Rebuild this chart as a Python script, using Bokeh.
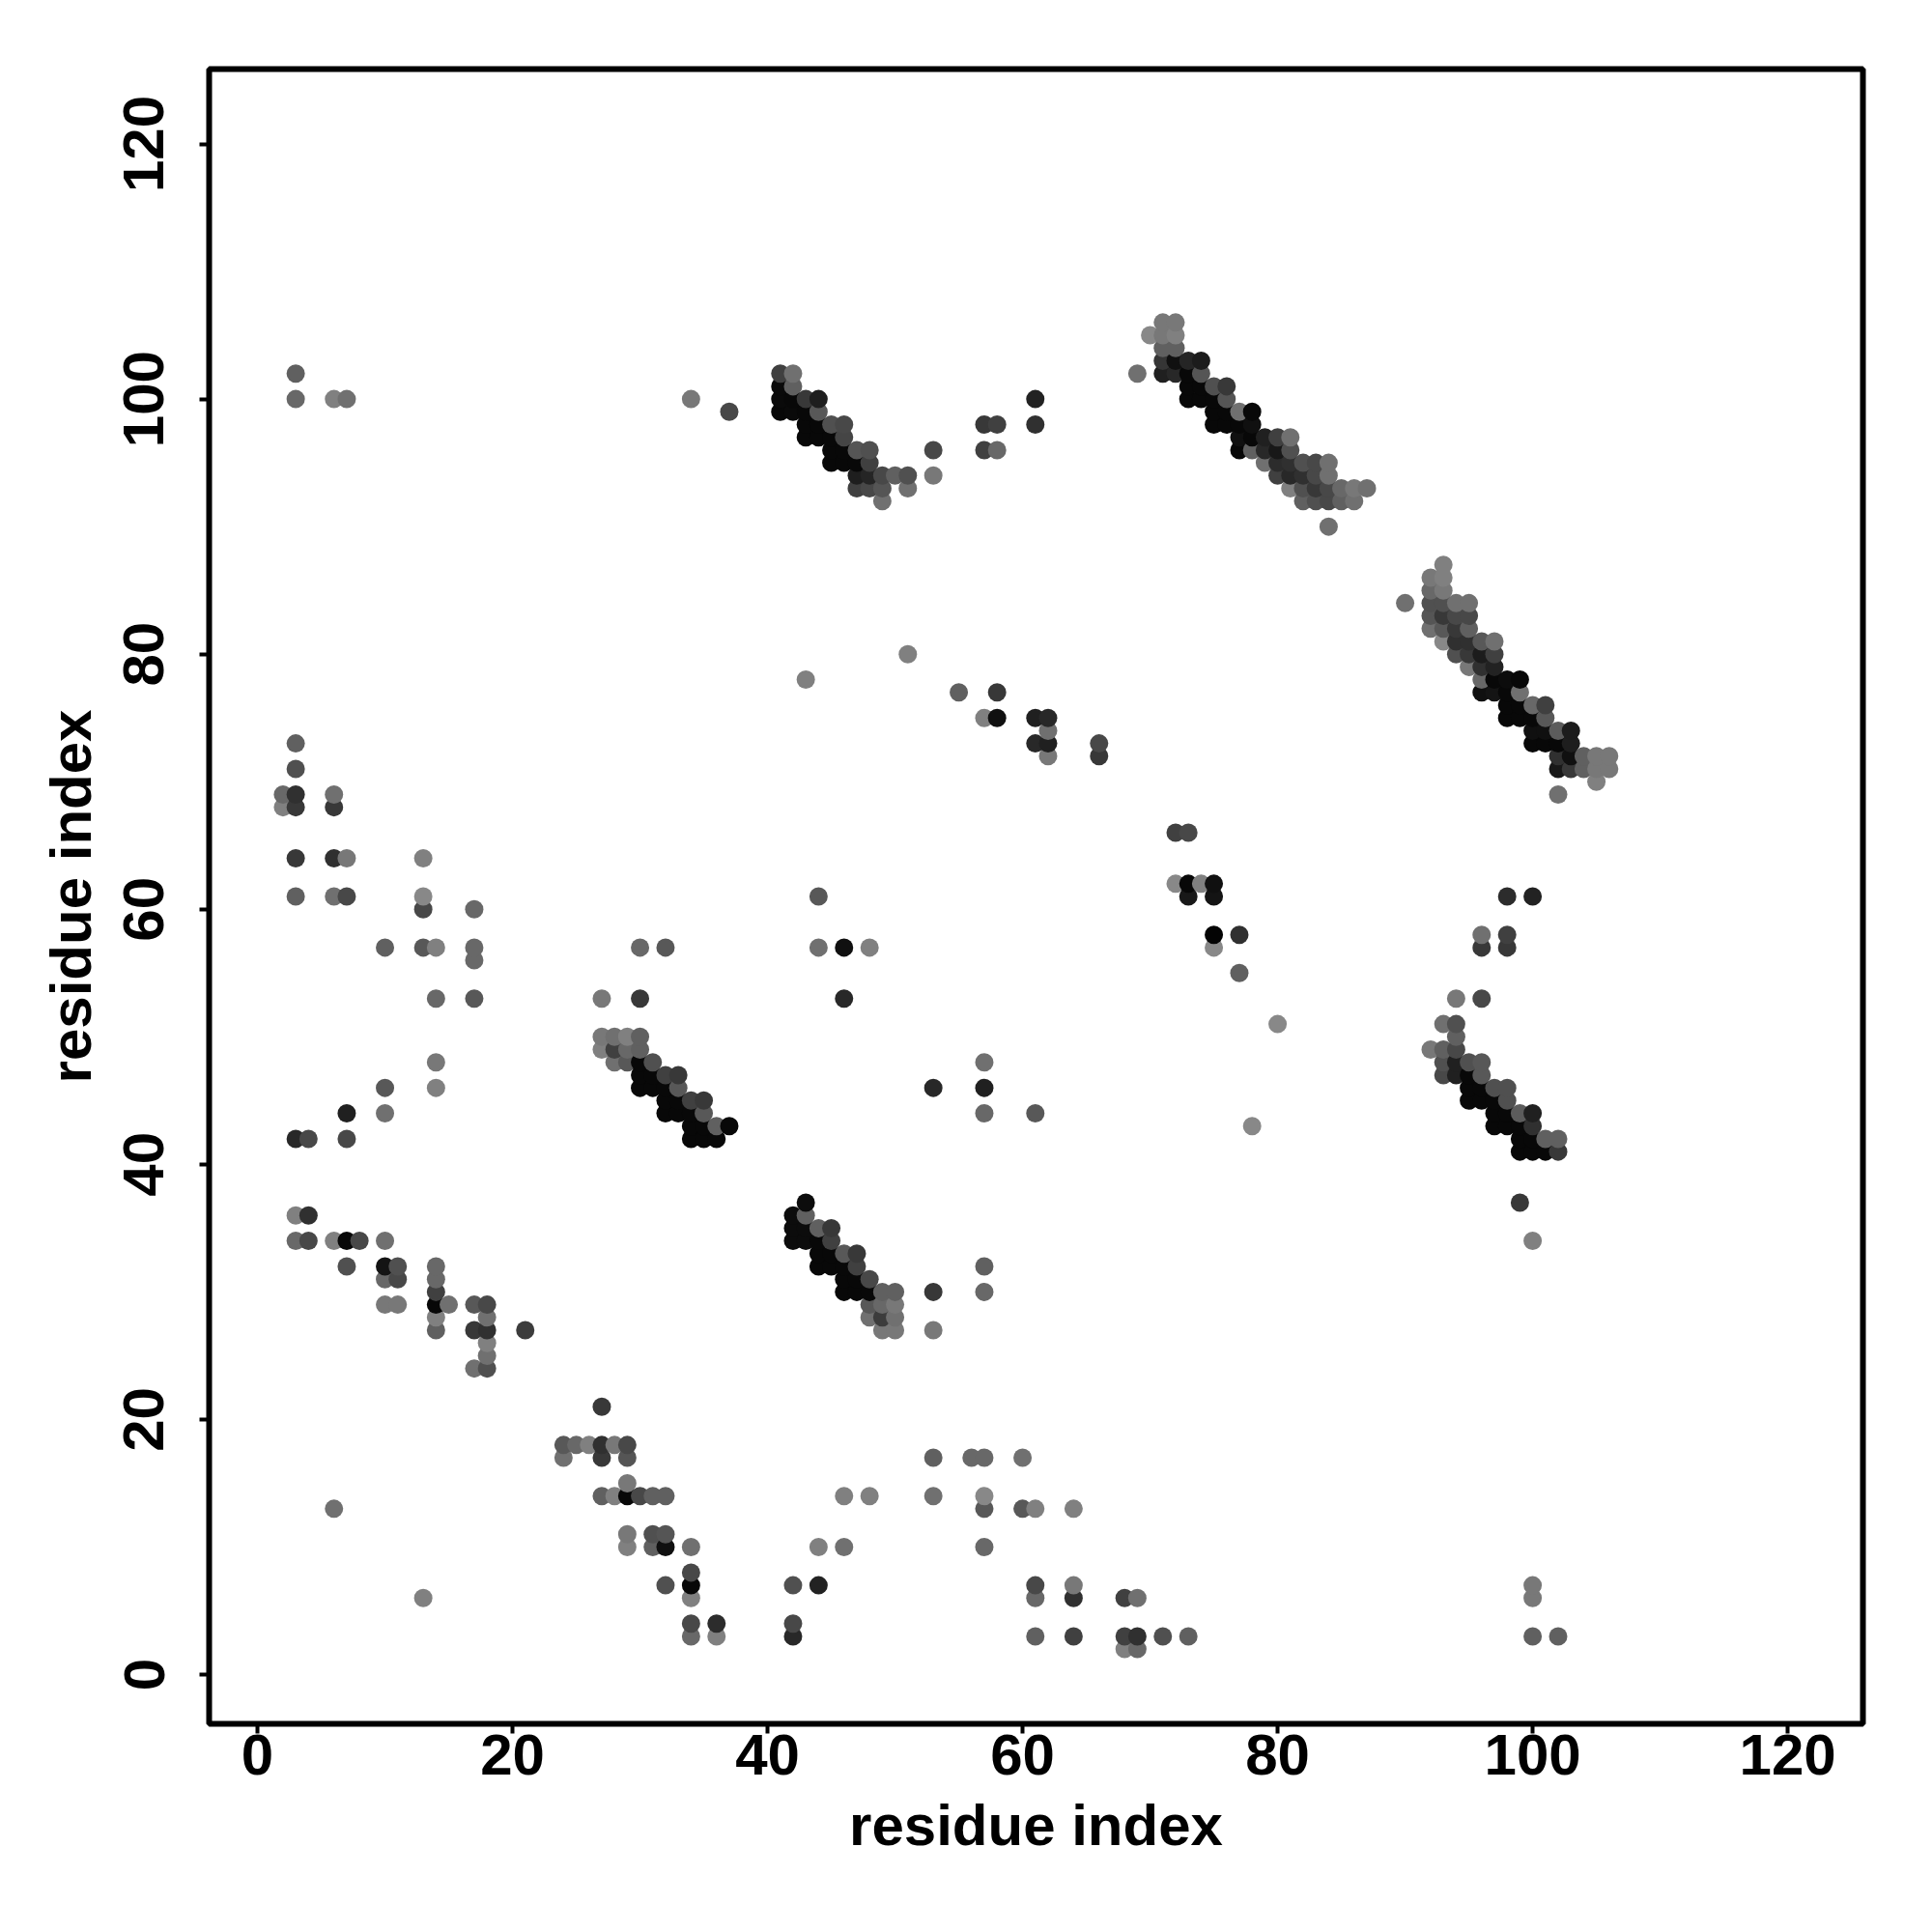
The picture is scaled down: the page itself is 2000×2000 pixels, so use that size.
from bokeh.plotting import figure
from bokeh.models import Range1d, FixedTicker, ColumnDataSource
from bokeh.embed import file_html
from bokeh.resources import INLINE

tick_values = [0, 20, 40, 60, 80, 100, 120]
x_label = "residue index"
y_label = "residue index"

# one entry per residue column; y positions and grey level of each contact
column_x = [2, 3, 4, 6, 7, 8, 10, 11, 13, 14, 15, 17, 18, 21, 24, 25, 26, 27, 28, 29, 30, 31, 32, 33, 34, 35, 36, 37,
            41, 42, 43, 44, 45, 46, 47, 48, 49, 50, 51, 53, 55, 56, 57, 58, 60, 61, 62, 64, 66, 68, 69, 70, 71, 72,
            73, 74, 75, 76, 77, 78, 79, 80, 81, 82, 83, 84, 85, 86, 87, 90, 92, 93, 94, 95, 96, 97, 98, 99, 100, 101,
            102, 103, 104, 105, 106]
column_y = [
    [69, 68],
    [102, 100, 73, 71, 69, 68, 64, 61, 42, 36, 34],
    [42, 36, 34],
    [100, 69, 68, 64, 61, 34, 13],
    [100, 64, 61, 44, 42, 34, 32],
    [34],
    [57, 46, 44, 34, 32, 31, 29],
    [32, 31, 29],
    [64, 61, 60, 57, 6],
    [57, 53, 48, 46, 32, 31, 30, 29, 28, 27],
    [29],
    [60, 57, 56, 53, 29, 27, 24],
    [29, 28, 27, 26, 25, 24],
    [27],
    [18, 17],
    [18],
    [18],
    [53, 50, 49, 21, 18, 17, 14],
    [50, 49, 48, 18, 14],
    [50, 49, 48, 18, 17, 15, 14, 11, 10],
    [57, 53, 50, 49, 48, 47, 46, 14],
    [48, 47, 46, 14, 11, 10],
    [57, 47, 46, 45, 44, 14, 11, 10, 7],
    [47, 46, 45, 44],
    [100, 45, 44, 43, 42, 10, 8, 7, 6, 4, 3],
    [45, 44, 43, 42],
    [43, 42, 4, 3],
    [99, 43],
    [102, 101, 100, 99],
    [102, 101, 100, 99, 36, 35, 34, 7, 4, 3],
    [100, 99, 98, 97, 78, 37, 36, 35, 34],
    [100, 99, 98, 97, 61, 57, 35, 34, 33, 32, 10, 7],
    [98, 97, 96, 95, 35, 34, 33, 32],
    [98, 97, 96, 95, 57, 53, 33, 32, 31, 30, 14, 10],
    [96, 95, 94, 93, 33, 32, 31, 30],
    [96, 95, 94, 93, 57, 31, 30, 29, 28, 14],
    [94, 93, 92, 30, 29, 28, 27],
    [94, 30, 29, 28, 27],
    [94, 93, 80],
    [96, 94, 46, 30, 27, 17, 14],
    [77],
    [17],
    [98, 96, 75, 48, 46, 44, 32, 30, 17, 14, 13, 10],
    [98, 96, 77, 75],
    [17, 13],
    [100, 98, 75, 73, 44, 13, 7, 6, 3],
    [75, 74, 73, 72],
    [13, 7, 6, 3],
    [73, 72],
    [6, 3, 2],
    [102, 6, 3, 2],
    [105],
    [106, 105, 104, 103, 102, 3],
    [106, 105, 104, 103, 102, 66, 62],
    [103, 102, 101, 100, 66, 62, 61, 3],
    [103, 102, 101, 100, 62],
    [101, 100, 99, 98, 62, 61, 58, 57],
    [101, 100, 99, 98],
    [99, 98, 97, 96, 58, 55],
    [99, 98, 97, 96, 43],
    [97, 96, 95],
    [97, 96, 95, 94, 51],
    [97, 96, 95, 94, 93],
    [95, 94, 93, 92],
    [95, 94, 93, 92],
    [95, 94, 93, 92, 90],
    [93, 92],
    [93, 92],
    [93],
    [84],
    [86, 85, 84, 83, 82, 49],
    [87, 86, 85, 84, 83, 82, 81, 51, 49, 48, 47],
    [84, 83, 82, 81, 80, 53, 51, 50, 49, 48, 47],
    [84, 83, 82, 81, 80, 79, 48, 47, 46, 45],
    [81, 80, 79, 78, 77, 58, 57, 53, 48, 47, 46, 45],
    [81, 80, 79, 78, 77, 46, 45, 44, 43],
    [78, 77, 76, 75, 61, 58, 57, 46, 45, 44, 43],
    [78, 77, 76, 75, 44, 43, 42, 41, 37],
    [76, 75, 74, 73, 61, 44, 43, 42, 41, 34, 7, 6, 3],
    [76, 75, 74, 73, 42, 41],
    [74, 73, 72, 71, 69, 42, 41, 3],
    [74, 73, 72, 71],
    [72, 71],
    [72, 71, 70],
    [72, 71],
]
column_grey = [
    [0x68, 0x80],
    [0x60, 0x68, 0x60, 0x50, 0x30, 0x38, 0x38, 0x60, 0x28, 0x80, 0x68],
    [0x48, 0x30, 0x48],
    [0x80, 0x70, 0x38, 0x30, 0x70, 0x80, 0x70],
    [0x70, 0x78, 0x48, 0x20, 0x48, 0x08, 0x50],
    [0x48],
    [0x60, 0x58, 0x70, 0x70, 0x14, 0x68, 0x78],
    [0x50, 0x48, 0x78],
    [0x80, 0x88, 0x48, 0x58, 0x80],
    [0x80, 0x68, 0x78, 0x80, 0x68, 0x68, 0x40, 0x08, 0x80, 0x60],
    [0x70],
    [0x68, 0x68, 0x68, 0x58, 0x58, 0x38, 0x70],
    [0x48, 0x70, 0x30, 0x80, 0x70, 0x50],
    [0x3c],
    [0x58, 0x70],
    [0x68],
    [0x80],
    [0x78, 0x78, 0x80, 0x38, 0x30, 0x38, 0x60],
    [0x70, 0x40, 0x70, 0x78, 0x80],
    [0x80, 0x68, 0x58, 0x48, 0x55, 0x78, 0x08, 0x78, 0x80],
    [0x68, 0x38, 0x60, 0x60, 0x08, 0x08, 0x08, 0x48],
    [0x50, 0x08, 0x08, 0x60, 0x50, 0x60],
    [0x58, 0x40, 0x08, 0x08, 0x08, 0x60, 0x55, 0x10, 0x50],
    [0x38, 0x58, 0x08, 0x08],
    [0x78, 0x40, 0x08, 0x08, 0x08, 0x70, 0x48, 0x08, 0x80, 0x48, 0x68],
    [0x38, 0x58, 0x08, 0x08],
    [0x60, 0x08, 0x2c, 0x80],
    [0x48, 0x08],
    [0x40, 0x0a, 0x0a, 0x08],
    [0x70, 0x60, 0x08, 0x0a, 0x0c, 0x0c, 0x0c, 0x50, 0x48, 0x28],
    [0x38, 0x08, 0x08, 0x08, 0x80, 0x0c, 0x60, 0x0c, 0x0c],
    [0x1e, 0x58, 0x08, 0x08, 0x58, 0x70, 0x60, 0x08, 0x08, 0x08, 0x80, 0x22],
    [0x50, 0x08, 0x08, 0x08, 0x38, 0x40, 0x08, 0x08],
    [0x48, 0x45, 0x08, 0x08, 0x10, 0x28, 0x58, 0x08, 0x08, 0x08, 0x80, 0x70],
    [0x55, 0x08, 0x1e, 0x40, 0x38, 0x40, 0x08, 0x08],
    [0x50, 0x40, 0x25, 0x48, 0x80, 0x48, 0x08, 0x58, 0x70, 0x80],
    [0x48, 0x55, 0x70, 0x60, 0x68, 0x3c, 0x78],
    [0x60, 0x60, 0x78, 0x70, 0x78],
    [0x50, 0x70, 0x80],
    [0x48, 0x78, 0x28, 0x38, 0x78, 0x60, 0x70],
    [0x60],
    [0x68],
    [0x38, 0x40, 0x80, 0x70, 0x20, 0x68, 0x60, 0x68, 0x68, 0x88, 0x58, 0x68],
    [0x40, 0x68, 0x38, 0x10],
    [0x70, 0x58],
    [0x22, 0x30, 0x20, 0x28, 0x58, 0x80, 0x48, 0x68, 0x60],
    [0x28, 0x70, 0x20, 0x78],
    [0x80, 0x78, 0x30, 0x40],
    [0x48, 0x38],
    [0x40, 0x40, 0x80],
    [0x70, 0x70, 0x30, 0x68],
    [0x88],
    [0x78, 0x78, 0x60, 0x35, 0x20, 0x50],
    [0x78, 0x80, 0x60, 0x10, 0x28, 0x40, 0x88],
    [0x25, 0x08, 0x08, 0x08, 0x48, 0x08, 0x18, 0x60],
    [0x1c, 0x55, 0x08, 0x08, 0x80],
    [0x50, 0x08, 0x08, 0x08, 0x10, 0x14, 0x04, 0x88],
    [0x38, 0x55, 0x08, 0x08],
    [0x70, 0x08, 0x10, 0x08, 0x30, 0x60],
    [0x08, 0x10, 0x08, 0x60, 0x88],
    [0x20, 0x28, 0x70],
    [0x40, 0x18, 0x2c, 0x40, 0x88],
    [0x70, 0x50, 0x30, 0x28, 0x80],
    [0x50, 0x30, 0x50, 0x60],
    [0x48, 0x48, 0x38, 0x50],
    [0x70, 0x70, 0x48, 0x48, 0x70],
    [0x68, 0x60],
    [0x78, 0x70],
    [0x70],
    [0x70],
    [0x78, 0x68, 0x50, 0x55, 0x70, 0x78],
    [0x80, 0x80, 0x78, 0x50, 0x38, 0x58, 0x88, 0x70, 0x60, 0x50, 0x48],
    [0x70, 0x48, 0x38, 0x30, 0x50, 0x78, 0x50, 0x60, 0x48, 0x20, 0x20],
    [0x70, 0x48, 0x60, 0x30, 0x38, 0x78, 0x50, 0x08, 0x08, 0x08],
    [0x58, 0x1c, 0x30, 0x68, 0x10, 0x70, 0x38, 0x48, 0x58, 0x58, 0x08, 0x08],
    [0x70, 0x40, 0x22, 0x08, 0x14, 0x50, 0x08, 0x08, 0x08],
    [0x0c, 0x08, 0x08, 0x08, 0x2c, 0x40, 0x38, 0x50, 0x50, 0x08, 0x08],
    [0x08, 0x70, 0x08, 0x08, 0x5c, 0x08, 0x08, 0x08, 0x38],
    [0x68, 0x08, 0x10, 0x08, 0x22, 0x20, 0x30, 0x08, 0x08, 0x80, 0x78, 0x78, 0x60],
    [0x40, 0x58, 0x10, 0x08, 0x60, 0x08],
    [0x5c, 0x08, 0x30, 0x18, 0x70, 0x60, 0x38, 0x60],
    [0x1c, 0x1e, 0x10, 0x38],
    [0x60, 0x60],
    [0x78, 0x78, 0x80],
    [0x78, 0x78],
]

points = []
for cx, ys, gs in zip(column_x, column_y, column_grey):
    assert len(ys) == len(gs), cx
    for y, g in zip(ys, gs):
        points.append((cx, y, g))
points.sort(key=lambda t: (t[0], t[1]))

source = ColumnDataSource(dict(
    x=[t[0] for t in points],
    y=[t[1] for t in points],
    color=["#%02x%02x%02x" % (t[2], t[2], t[2]) for t in points],
))

FONT = "Liberation Sans"
p = figure(width=1980, height=1980, output_backend="svg", toolbar_location=None,
           x_range=Range1d(-3.79, 125.90), y_range=Range1d(-3.86, 125.87),
           min_border_left=216, min_border_right=52, min_border_top=71, min_border_bottom=196)
p.frame_width = 1712
p.frame_height = 1713
p.grid.visible = False
p.background_fill_color = "white"
p.outline_line_color = "black"
p.outline_line_width = 6

p.scatter("x", "y", source=source, size=19, marker="circle", fill_color="color", line_color=None)

for ax, label in ((p.xaxis[0], x_label), (p.yaxis[0], y_label)):
    ax.ticker = FixedTicker(ticks=tick_values)
    ax.axis_line_color = None
    ax.major_tick_line_color = "black"
    ax.major_tick_line_width = 4
    ax.major_tick_in = 0
    ax.major_tick_out = 10
    ax.minor_tick_line_color = None
    ax.major_label_text_font = FONT
    ax.major_label_text_font_style = "bold"
    ax.major_label_text_font_size = "60px"
    ax.major_label_text_color = "black"
    ax.axis_label = label
    ax.axis_label_text_font = FONT
    ax.axis_label_text_font_style = "bold"
    ax.axis_label_text_font_size = "60px"
    ax.axis_label_text_color = "black"

p.yaxis[0].major_label_orientation = "vertical"
p.xaxis[0].major_label_standoff = 1
p.yaxis[0].major_label_standoff = 37
p.xaxis[0].axis_label_standoff = 16
p.yaxis[0].axis_label_standoff = 19

open("out.html", "w").write(file_html(p, INLINE))
